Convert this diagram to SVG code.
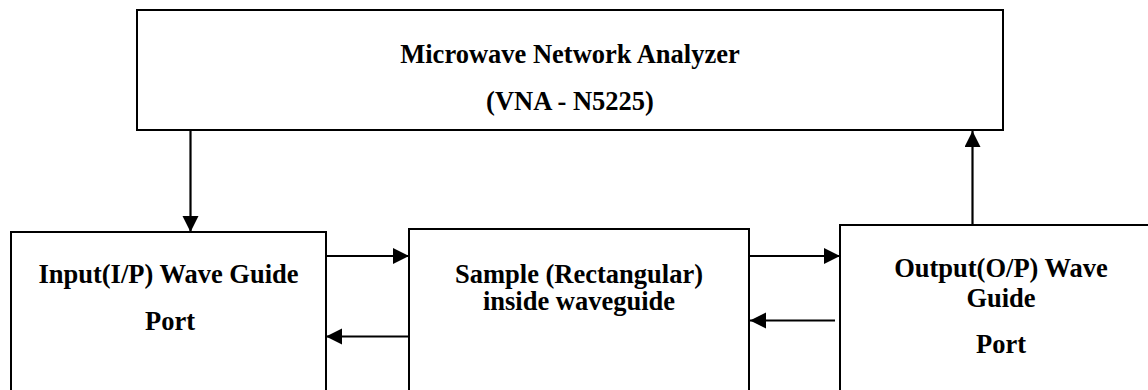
<svg xmlns="http://www.w3.org/2000/svg" width="1148" height="390" viewBox="0 0 1148 390">
  <style>
    .box { fill: #ffffff; stroke: #000000; stroke-width: 2; }
    .lbl { font-family: "Liberation Serif", "Times New Roman", serif; font-weight: bold; font-size: 26.5px; fill: #000000; text-anchor: middle; }
    .conn { stroke: #000000; stroke-width: 2.2; fill: none; marker-end: url(#arrow); }
  </style>
  <defs>
    <marker id="arrow" markerUnits="userSpaceOnUse" markerWidth="18" markerHeight="17" refX="16" refY="8" orient="auto">
      <path d="M0,0 L16,8 L0,16 z" fill="#000000"/>
    </marker>
  </defs>
  <rect width="1148" height="390" fill="#ffffff"/>

  <g id="vna">
    <rect class="box" x="137" y="10" width="866" height="120"/>
    <text class="lbl" x="570" y="63">Microwave Network Analyzer</text>
    <text class="lbl" x="570" y="110">(VNA - N5225)</text>
  </g>

  <g id="input-port">
    <rect class="box" x="11" y="232" width="315" height="180"/>
    <text class="lbl" x="168.5" y="283">Input(I/P) Wave Guide</text>
    <text class="lbl" x="170" y="330">Port</text>
  </g>

  <g id="sample">
    <rect class="box" x="409" y="229" width="340" height="180"/>
    <text class="lbl" x="579" y="283">Sample (Rectangular)</text>
    <text class="lbl" x="579" y="310">inside waveguide</text>
  </g>

  <g id="output-port">
    <rect class="box" x="840" y="225" width="330" height="190"/>
    <text class="lbl" x="1001" y="277">Output(O/P) Wave</text>
    <text class="lbl" x="1001" y="307">Guide</text>
    <text class="lbl" x="1001" y="353">Port</text>
  </g>

  <g id="connectors">
    <line class="conn" x1="190.5" y1="131" x2="190.5" y2="232"/>
    <line class="conn" x1="972.5" y1="225" x2="972.5" y2="131"/>
    <line class="conn" x1="325" y1="256" x2="409" y2="256"/>
    <line class="conn" x1="409" y1="336.5" x2="326" y2="336.5"/>
    <line class="conn" x1="749" y1="256" x2="840" y2="256"/>
    <line class="conn" x1="835" y1="320.5" x2="750" y2="320.5"/>
  </g>
</svg>
